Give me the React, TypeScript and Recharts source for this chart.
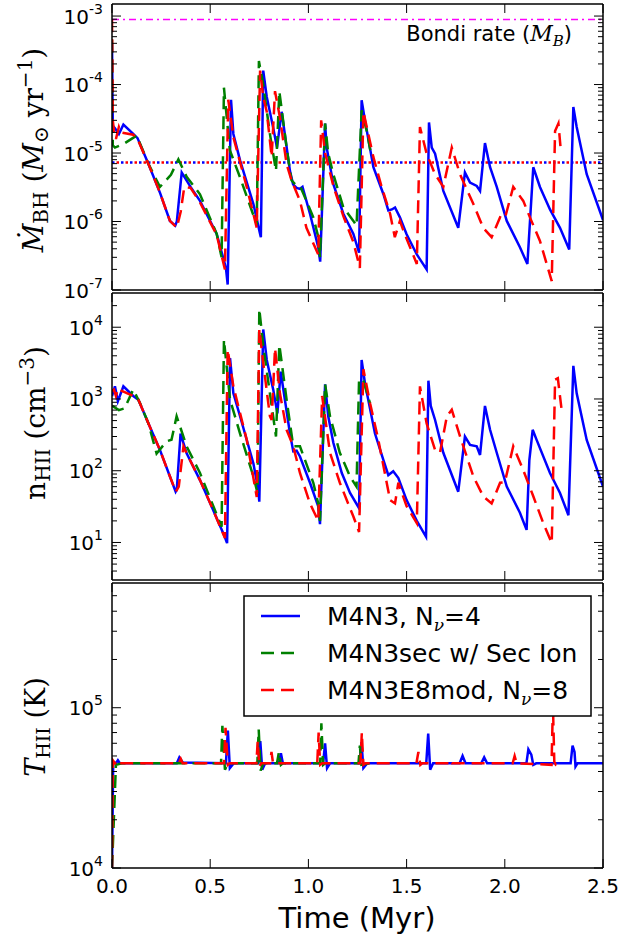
import React from 'react';
import { LineChart, Line, XAxis, YAxis, ReferenceLine, Legend } from 'recharts';

// time axis (Myr)
const timeTicks = [0, 0.5, 1.0, 1.5, 2.0, 2.5];

// labelled decades per panel
const mdotDecades = [-7, -6, -5, -4, -3];
const densDecades = [1, 2, 3, 4];
const tempDecades = [4, 5];

const mdotDomain = [1e-7, 1.5e-3];
const densDomain = [3, 3e4];
const tempDomain = [1e4, 6e5];

const bondiRate = 8.9e-4;
const meanRate = 7.3e-6;

// accretion rate [t, Mdot]
const mdotBlue = [
  [0, 4e-4], [0.004, 2.5e-5], [0.015, 2.3e-5], [0.035, 1.9e-5], [0.058, 2.6e-5], [0.108, 1.9e-5], [0.13, 1.65e-5],
  [0.185, 7e-6], [0.245, 2.6e-6], [0.295, 1.02e-6], [0.322, 8.7e-7], [0.33, 1.0e-6], [0.355, 5.2e-6], [0.4, 3.2e-6],
  [0.448, 2e-6], [0.533, 6.6e-7], [0.58, 2.1e-7], [0.589, 1.2e-7], [0.606, 6e-5], [0.618, 1.9e-5], [0.652, 7.8e-6],
  [0.72, 1.8e-6], [0.754, 6.6e-7], [0.758, 5.9e-7], [0.77, 1.6e-4], [0.788, 6.6e-5], [0.82, 2.4e-5], [0.84, 1.2e-5],
  [0.864, 4e-5], [0.906, 5.5e-6], [0.922, 3.5e-6], [0.94, 3.1e-6], [0.957, 3.0e-6], [0.97, 3.2e-6], [1.008, 1.3e-6],
  [1.05, 4.2e-7], [1.06, 2.6e-7], [1.085, 2.7e-5], [1.093, 1.2e-5], [1.127, 3.5e-6], [1.178, 1.3e-6], [1.229, 6.6e-7],
  [1.258, 3.5e-7], [1.271, 5.9e-5], [1.288, 3e-5], [1.331, 6.2e-6], [1.382, 2.5e-6], [1.407, 1.45e-6], [1.425, 1.5e-6],
  [1.441, 1.6e-6], [1.466, 1.15e-6], [1.5, 6.5e-7], [1.552, 3.3e-7], [1.602, 2e-7], [1.614, 2.8e-5], [1.628, 1.2e-5],
  [1.645, 9.8e-6], [1.687, 2.8e-6], [1.763, 8.1e-7], [1.797, 5.2e-6], [1.823, 3.7e-6], [1.857, 3.3e-6], [1.874, 2.8e-6],
  [1.899, 1.4e-5], [1.925, 6.2e-6], [1.959, 3.2e-6], [2.01, 1.02e-6], [2.077, 4.2e-7], [2.115, 2.4e-7], [2.145, 6.2e-6],
  [2.179, 3.2e-6], [2.23, 1.5e-6], [2.281, 8.1e-7], [2.328, 3.9e-7], [2.349, 4.7e-5], [2.366, 2.4e-5], [2.417, 4.9e-6],
  [2.5, 1.05e-6],
];
const mdotGreen = [
  [0, 4.5e-4], [0.004, 1.3e-5], [0.015, 1.2e-5], [0.058, 1.35e-5], [0.126, 1.8e-5], [0.185, 7e-6], [0.244, 3.2e-6],
  [0.3, 4.8e-6], [0.338, 8.1e-6], [0.38, 4.5e-6], [0.448, 2.5e-6], [0.533, 6.6e-7], [0.558, 3e-7], [0.57, 9e-5],
  [0.6, 1.1e-5], [0.652, 4.4e-6], [0.737, 9e-7], [0.748, 2.2e-4], [0.77, 1e-4], [0.804, 1.9e-5], [0.835, 5.5e-6],
  [0.852, 8e-5], [0.889, 1.2e-5], [0.914, 4e-6], [0.94, 3.3e-6], [0.96, 3.2e-6], [1.025, 1.15e-6], [1.05, 6e-7],
  [1.059, 3e-7], [1.085, 2.7e-5], [1.101, 9.8e-6], [1.127, 4.9e-6], [1.178, 1.6e-6], [1.229, 1.02e-6], [1.245, 8.7e-7],
  [1.271, 4.2e-5], [1.297, 2.1e-5], [1.315, 1.1e-5],
];
const mdotRed = [
  [0, 9e-4], [0.004, 3e-5], [0.01, 2.1e-5], [0.02, 1.6e-5], [0.035, 2.4e-5], [0.045, 2e-5], [0.108, 1.85e-5],
  [0.13, 1.6e-5], [0.185, 7e-6], [0.245, 2.6e-6], [0.295, 1.02e-6], [0.33, 8.1e-7], [0.35, 1.4e-6], [0.368, 3.2e-6],
  [0.4, 3.1e-6], [0.448, 1.9e-6], [0.533, 6.4e-7], [0.575, 2e-7], [0.592, 6e-5], [0.618, 1.7e-5], [0.686, 3.2e-6],
  [0.737, 8.1e-7], [0.754, 1.6e-4], [0.77, 6.6e-5], [0.788, 4e-5], [0.813, 8.8e-6], [0.83, 8e-5], [0.855, 3.3e-5],
  [0.889, 6.9e-6], [0.914, 4e-6], [0.957, 2e-6], [0.99, 8.1e-7], [1.05, 3.3e-7], [1.065, 3e-5], [1.085, 1e-5],
  [1.127, 3.3e-6], [1.178, 1.2e-6], [1.229, 5e-7], [1.262, 2.1e-7], [1.28, 4e-5], [1.331, 8.7e-6], [1.373, 3.2e-6],
  [1.416, 1.3e-6], [1.44, 5.9e-7], [1.466, 1.02e-6], [1.49, 6.6e-7], [1.552, 2.4e-7], [1.568, 2.4e-5], [1.602, 9.8e-6],
  [1.645, 4.9e-6], [1.687, 3.2e-6], [1.73, 1.2e-5], [1.772, 4.9e-6], [1.84, 1.8e-6], [1.89, 8.1e-7], [1.933, 5.9e-7],
  [1.976, 1.15e-6], [2.0, 1.1e-6], [2.043, 3.2e-6], [2.094, 2e-6], [2.128, 1.15e-6], [2.179, 5.2e-7], [2.239, 1.35e-7],
  [2.256, 2.1e-5], [2.273, 2.7e-5], [2.284, 1.2e-5],
];

// HII density [t, n]
const densBlue = [
  [0, 1.1e3], [0.015, 1.5e3], [0.03, 930], [0.058, 1.5e3], [0.108, 1.1e3], [0.134, 980], [0.185, 460], [0.244, 195],
  [0.295, 83], [0.324, 51], [0.33, 55], [0.349, 330], [0.38, 175], [0.448, 74], [0.516, 28], [0.574, 12], [0.586, 9.8],
  [0.601, 3.7e3], [0.618, 1.2e3], [0.652, 575], [0.72, 126], [0.745, 54], [0.75, 37], [0.77, 9.3e3], [0.788, 3.5e3],
  [0.821, 1.35e3], [0.842, 630], [0.859, 2.4e3], [0.906, 330], [0.923, 186], [0.94, 190], [0.957, 158], [1.008, 68],
  [1.05, 32], [1.059, 18], [1.085, 1.6e3], [1.101, 575], [1.127, 245], [1.17, 93], [1.212, 49], [1.258, 30],
  [1.271, 3.5e3], [1.288, 1.66e3], [1.339, 330], [1.382, 141], [1.407, 87], [1.432, 98], [1.458, 79], [1.5, 39],
  [1.552, 20], [1.599, 12], [1.611, 1.8e3], [1.623, 800], [1.645, 510], [1.687, 178], [1.763, 51], [1.797, 300],
  [1.823, 229], [1.857, 219], [1.874, 166], [1.899, 800], [1.925, 372], [1.959, 178], [2.01, 60], [2.077, 26],
  [2.111, 15], [2.125, 141], [2.142, 372], [2.162, 269], [2.23, 93], [2.281, 49], [2.324, 24], [2.349, 2.9e3],
  [2.366, 1.2e3], [2.417, 269], [2.5, 60],
];
const densGreen = [
  [0, 800], [0.015, 760], [0.035, 700], [0.064, 740], [0.108, 1.35e3], [0.143, 870], [0.185, 460], [0.227, 174],
  [0.278, 257], [0.303, 270], [0.329, 575], [0.38, 219], [0.448, 93], [0.516, 32], [0.558, 16.6], [0.57, 6.7e3],
  [0.601, 980], [0.652, 330], [0.72, 83], [0.741, 49], [0.75, 1.8e4], [0.77, 5.5e3], [0.804, 1.2e3], [0.835, 300],
  [0.852, 5.7e3], [0.889, 980], [0.923, 219], [0.957, 219], [1.025, 68], [1.05, 35], [1.059, 20], [1.085, 1.6e3],
  [1.11, 575], [1.16, 178], [1.212, 83], [1.245, 60], [1.258, 1.9e3], [1.28, 1.8e3], [1.314, 870],
];
const densRed = [
  [0, 1.3e3], [0.01, 1.35e3], [0.02, 1.1e3], [0.03, 1.4e3], [0.05, 1.3e3], [0.108, 1.1e3], [0.134, 980], [0.185, 460],
  [0.244, 195], [0.295, 83], [0.325, 51], [0.34, 60], [0.364, 219], [0.38, 175], [0.448, 74], [0.516, 28],
  [0.575, 11.5], [0.589, 4.9e3], [0.618, 1.5e3], [0.686, 270], [0.737, 43], [0.75, 9.4e3], [0.77, 3.2e3],
  [0.804, 575], [0.813, 510], [0.83, 5.1e3], [0.855, 1.2e3], [0.889, 372], [0.923, 219], [0.957, 93], [1.008, 35],
  [1.05, 20], [1.07, 1.1e3], [1.11, 178], [1.16, 68], [1.229, 23], [1.258, 14], [1.28, 2.6e3], [1.314, 870],
  [1.356, 270], [1.416, 39], [1.441, 35], [1.458, 68], [1.5, 32], [1.552, 18.6], [1.568, 1.5e3], [1.602, 457],
  [1.645, 195], [1.67, 178], [1.705, 575], [1.73, 710], [1.772, 302], [1.84, 83], [1.89, 44], [1.933, 35],
  [1.976, 68], [2.0, 69], [2.043, 219], [2.094, 102], [2.145, 44], [2.196, 18.6], [2.239, 9.8], [2.256, 1.86e3],
  [2.27, 1.95e3], [2.29, 680],
];

// HII temperature [t, T]
const tempBlue = [
  [0, 1e4], [0.006, 4.6e4], [0.02, 4.5e4], [0.03, 4.7e4], [0.04, 4.5e4], [0.33, 4.5e4], [0.343, 4.9e4], [0.36, 4.55e4],
  [0.58, 4.5e4], [0.59, 7.2e4], [0.6, 4.2e4], [0.62, 4.5e4], [0.745, 4.5e4], [0.755, 6.2e4], [0.765, 4.1e4],
  [0.78, 4.5e4], [0.85, 4.5e4], [0.86, 5.2e4], [0.87, 4.5e4], [1.075, 4.5e4], [1.085, 6e4], [1.095, 4.2e4],
  [1.11, 4.5e4], [1.26, 4.5e4], [1.27, 6.1e4], [1.28, 4.2e4], [1.3, 4.5e4], [1.6, 4.5e4], [1.61, 6.9e4],
  [1.62, 4.1e4], [1.635, 4.5e4], [1.77, 4.5e4], [1.785, 5e4], [1.8, 4.5e4], [1.88, 4.5e4], [1.895, 4.9e4],
  [1.91, 4.5e4], [2.11, 4.5e4], [2.12, 5.5e4], [2.135, 5.1e4], [2.145, 4.4e4], [2.16, 4.5e4], [2.335, 4.5e4],
  [2.345, 5.8e4], [2.355, 5.3e4], [2.36, 4.3e4], [2.37, 4.5e4], [2.5, 4.5e4],
];
const tempGreen = [
  [0, 1e4], [0.02, 4.4e4], [0.05, 4.5e4], [0.555, 4.5e4], [0.562, 7.7e4], [0.575, 4.1e4], [0.59, 4.5e4],
  [0.74, 4.5e4], [0.747, 7.3e4], [0.757, 4.05e4], [0.77, 4.5e4], [0.84, 4.5e4], [0.85, 5.3e4], [0.86, 4.4e4],
  [0.87, 4.5e4], [1.06, 4.5e4], [1.066, 8e4], [1.075, 4.4e4], [1.085, 4.5e4], [1.255, 4.5e4], [1.262, 5.8e4],
  [1.27, 4.4e4], [1.31, 4.5e4],
];
const tempRed = [
  [0, 1e4], [0.004, 4.7e4], [0.015, 4.5e4], [0.025, 4.7e4], [0.035, 4.5e4], [0.34, 4.5e4], [0.35, 4.8e4],
  [0.36, 4.5e4], [0.57, 4.5e4], [0.578, 7.5e4], [0.59, 4.4e4], [0.6, 4.5e4], [0.735, 4.5e4], [0.742, 6.2e4],
  [0.75, 4.3e4], [0.76, 4.5e4], [0.805, 4.5e4], [0.812, 5.3e4], [0.82, 4.5e4], [1.045, 4.5e4], [1.052, 7e4],
  [1.06, 4.4e4], [1.07, 4.5e4], [1.265, 4.5e4], [1.272, 7e4], [1.28, 4.4e4], [1.29, 4.5e4], [1.55, 4.5e4],
  [1.56, 5.3e4], [1.57, 4.4e4], [1.58, 4.5e4], [1.715, 4.5e4], [1.72, 4.7e4], [1.73, 4.5e4], [2.04, 4.5e4],
  [2.05, 5e4], [2.06, 4.5e4], [2.238, 4.4e4], [2.245, 1.05e5], [2.252, 4.6e4], [2.26, 4.4e4], [2.29, 4.5e4],
];

const seriesNames = ['M4N3', 'M4N3sec w/ Sec Ion', 'M4N3E8mod'];

const toPts = (arr: number[][]) => arr.map(([t, v]) => ({ t, v }));

// log ticks: labelled decades plus the 2..9 minor ticks inside the domain
const logTicks = (decades: number[], domain: number[]) => {
  const out: number[] = [];
  const lo = Math.floor(Math.log10(domain[0]));
  const hi = Math.ceil(Math.log10(domain[1]));
  for (let e = lo; e <= hi; e++) {
    for (let m = 1; m < 10; m++) {
      const v = m * Math.pow(10, e);
      if (m === 1 && decades.includes(e)) out.push(v);
      else if (m > 1 && v > domain[0] * 1.001 && v < domain[1] * 0.999) out.push(v);
    }
  }
  return out;
};

const FONT = 'DejaVu Sans, sans-serif';
const SERIF = 'DejaVu Serif, serif';

const isMajor = (v: number) => {
  const e = Math.log10(v);
  return Math.abs(e - Math.round(e)) < 1e-6;
};

const LeftTick = (p: any) => {
  const { x, y, payload } = p;
  const major = isMajor(payload.value);
  const n = Math.round(Math.log10(payload.value));
  return (
    <g>
      <line x1={x} x2={x + (major ? 9 : 5)} y1={y} y2={y} stroke="#000" strokeWidth={1} />
      {major && (
        <text x={x - 9} y={y + 7.5} textAnchor="end" fontFamily={FONT} fontSize={20} fill="#000">
          10<tspan dy={-10} fontSize={14}>{n < 0 ? '-' + -n : String(n)}</tspan>
        </text>
      )}
    </g>
  );
};

const RightTick = (p: any) => {
  const { x, y, payload } = p;
  const major = isMajor(payload.value);
  return <line x1={x} x2={x - (major ? 9 : 5)} y1={y} y2={y} stroke="#000" strokeWidth={1} />;
};

const TopTick = (p: any) => {
  const { x, y } = p;
  return <line x1={x} x2={x} y1={y} y2={y + 9} stroke="#000" strokeWidth={1} />;
};

const BottomTick = (p: any) => {
  const { x, y, payload, showLabel } = p;
  return (
    <g>
      <line x1={x} x2={x} y1={y} y2={y - 9} stroke="#000" strokeWidth={1} />
      {showLabel && (
        <text x={x} y={y + 25} textAnchor="middle" fontFamily={FONT} fontSize={20} fill="#000">
          {payload.value.toFixed(1)}
        </text>
      )}
    </g>
  );
};

const MdotLabel = () => (
  <text transform="rotate(-90, 43, 150)" x={43} y={150} textAnchor="middle" fontFamily={SERIF} fontSize={28} fill="#000">
    <tspan fontStyle="italic">Ṁ</tspan>
    <tspan fontSize={20} dy={5}>BH</tspan>
    <tspan dy={-5}> (</tspan>
    <tspan fontStyle="italic">M</tspan>
    <tspan fontSize={20} dy={5}>⊙</tspan>
    <tspan dy={-5}> yr</tspan>
    <tspan fontSize={20} dy={-11}>−1</tspan>
    <tspan dy={11}>)</tspan>
  </text>
);

// chart 2 sits at page y=291
const DensLabel = () => (
  <text transform="rotate(-90, 45, 132)" x={45} y={132} textAnchor="middle" fontFamily={SERIF} fontSize={28} fill="#000">
    <tspan>n</tspan>
    <tspan fontSize={20} dy={5}>HII</tspan>
    <tspan dy={-5}> (cm</tspan>
    <tspan fontSize={20} dy={-11}>−3</tspan>
    <tspan dy={11}>)</tspan>
  </text>
);

// chart 3 sits at page y=581
const TempLabel = () => (
  <text transform="rotate(-90, 45, 146)" x={45} y={146} textAnchor="middle" fontFamily={SERIF} fontSize={27} fill="#000">
    <tspan fontStyle="italic">T</tspan>
    <tspan fontSize={19} dy={5}>HII</tspan>
    <tspan dy={-5}> (K)</tspan>
  </text>
);

const TimeLabel = () => (
  <text x={357} y={347} textAnchor="middle" fontFamily={FONT} fontSize={29} fill="#000">
    Time (Myr)
  </text>
);

const BondiLabel = () => (
  <text x={572} y={41} textAnchor="end" fontFamily={FONT} fontSize={21} fill="#000">
    Bondi rate (
    <tspan fontFamily={SERIF} fontStyle="italic" fontSize={22}>M</tspan>
    <tspan fontFamily={SERIF} fontStyle="italic" fontSize={15} dy={5}>B</tspan>
    <tspan dy={-5}>)</tspan>
  </text>
);

const LegendBox = () => {
  const rows = [
    { color: '#0000ff', dash: undefined, name: seriesNames[0], nu: '4' },
    { color: '#008000', dash: '13 7', name: seriesNames[1], nu: null },
    { color: '#ff0000', dash: '13 7', name: seriesNames[2], nu: '8' },
  ];
  return (
    <svg width={349} height={122} style={{ display: 'block' }}>
      <rect x={1} y={1} width={347} height={120} fill="#fff" stroke="#000" strokeWidth={1.5} />
      {rows.map((r, i) => {
        const cy = 21 + i * 37;
        return (
          <g key={r.name}>
            <line x1={18} x2={57} y1={cy} y2={cy} stroke={r.color} strokeWidth={2.5} strokeDasharray={r.dash} />
            <text x={84} y={cy + 9} fontFamily={FONT} fontSize={25} fill="#000">
              {r.nu ? r.name + ', N' : r.name}
              {r.nu && <tspan fontFamily={SERIF} fontStyle="italic" fontSize={17} dy={6}>ν</tspan>}
              {r.nu && <tspan dy={-6}>{'=' + r.nu}</tspan>}
            </text>
          </g>
        );
      })}
    </svg>
  );
};

const axisLine = { stroke: '#000', strokeWidth: 1.5 };

// axes get a 1px width/height (0 makes recharts skip them); margins compensate
const renderAxes = (domain: number[], ticks: number[], label: any, xLabels: boolean) => [
  <XAxis
    key="xb"
    xAxisId="b"
    dataKey="t"
    type="number"
    domain={[0, 2.5]}
    allowDataOverflow
    ticks={timeTicks}
    interval={0}
    height={1}
    tickSize={0}
    tickMargin={0}
    tickLine={false}
    axisLine={axisLine}
    tick={<BottomTick showLabel={xLabels} />}
    label={xLabels ? <TimeLabel /> : undefined}
  />,
  <XAxis
    key="xt"
    xAxisId="t"
    orientation="top"
    dataKey="t"
    type="number"
    domain={[0, 2.5]}
    allowDataOverflow
    ticks={timeTicks}
    interval={0}
    height={1}
    tickSize={0}
    tickMargin={0}
    tickLine={false}
    axisLine={axisLine}
    tick={<TopTick />}
  />,
  <YAxis
    key="yl"
    yAxisId="l"
    scale="log"
    type="number"
    domain={domain}
    allowDataOverflow
    ticks={ticks}
    interval={0}
    width={1}
    tickSize={0}
    tickMargin={0}
    tickLine={false}
    axisLine={axisLine}
    tick={<LeftTick />}
    label={label}
  />,
  <YAxis
    key="yr"
    yAxisId="r"
    orientation="right"
    scale="log"
    type="number"
    domain={domain}
    allowDataOverflow
    ticks={ticks}
    interval={0}
    width={1}
    tickSize={0}
    tickMargin={0}
    tickLine={false}
    axisLine={axisLine}
    tick={<RightTick />}
  />,
];

const renderSeries = (blue: number[][], green: number[][], red: number[][]) => [
  <Line key="b" data={toPts(blue)} dataKey="v" name={seriesNames[0]} xAxisId="b" yAxisId="l" type="linear"
    stroke="#0000ff" strokeWidth={2.5} dot={false} isAnimationActive={false} />,
  <Line key="g" data={toPts(green)} dataKey="v" name={seriesNames[1]} xAxisId="b" yAxisId="l" type="linear"
    stroke="#008000" strokeWidth={2.5} strokeDasharray="13 7" dot={false} isAnimationActive={false} />,
  <Line key="r" data={toPts(red)} dataKey="v" name={seriesNames[2]} xAxisId="b" yAxisId="l" type="linear"
    stroke="#ff0000" strokeWidth={2.5} strokeDasharray="13 7" dot={false} isAnimationActive={false} />,
];

export default function App() {
  return (
    <div style={{ position: 'absolute', left: 0, top: 0, width: 643, height: 936, background: '#fff' }}>
      <div style={{ position: 'absolute', left: 0, top: 0 }}>
        <LineChart width={643} height={312} margin={{ top: 3, right: 39, bottom: 21, left: 111 }}>
          {renderAxes(mdotDomain, logTicks(mdotDecades, mdotDomain), <MdotLabel />, false)}
          <ReferenceLine xAxisId="b" yAxisId="l" y={bondiRate} stroke="#ff00ff" strokeWidth={1.5}
            strokeDasharray="7 4 2 4" label={<BondiLabel />} />
          <ReferenceLine xAxisId="b" yAxisId="l" y={meanRate} stroke="#0000ff" strokeWidth={2.5}
            strokeDasharray="2.5 6.5" />
          <ReferenceLine xAxisId="b" yAxisId="l" y={meanRate} stroke="#ff0000" strokeWidth={2.5}
            strokeDasharray="2.5 6.5" strokeDashoffset={-4.5} />
          {renderSeries(mdotBlue, mdotGreen, mdotRed)}
        </LineChart>
      </div>
      <div style={{ position: 'absolute', left: 0, top: 291 }}>
        <LineChart width={643} height={299} margin={{ top: 1, right: 39, bottom: 9, left: 111 }}>
          {renderAxes(densDomain, logTicks(densDecades, densDomain), <DensLabel />, false)}
          {renderSeries(densBlue, densGreen, densRed)}
        </LineChart>
      </div>
      <div style={{ position: 'absolute', left: 0, top: 581 }}>
        <LineChart width={643} height={355} margin={{ top: 1, right: 39, bottom: 67, left: 111 }}>
          {renderAxes(tempDomain, logTicks(tempDecades, tempDomain), <TempLabel />, true)}
          {renderSeries(tempBlue, tempGreen, tempRed)}
          <Legend
            layout="horizontal"
            verticalAlign="middle"
            align="center"
            content={() => <LegendBox />}
            wrapperStyle={{ position: 'absolute', left: 243, top: 14, width: 349, height: 122 }}
          />
        </LineChart>
      </div>
    </div>
  );
}
